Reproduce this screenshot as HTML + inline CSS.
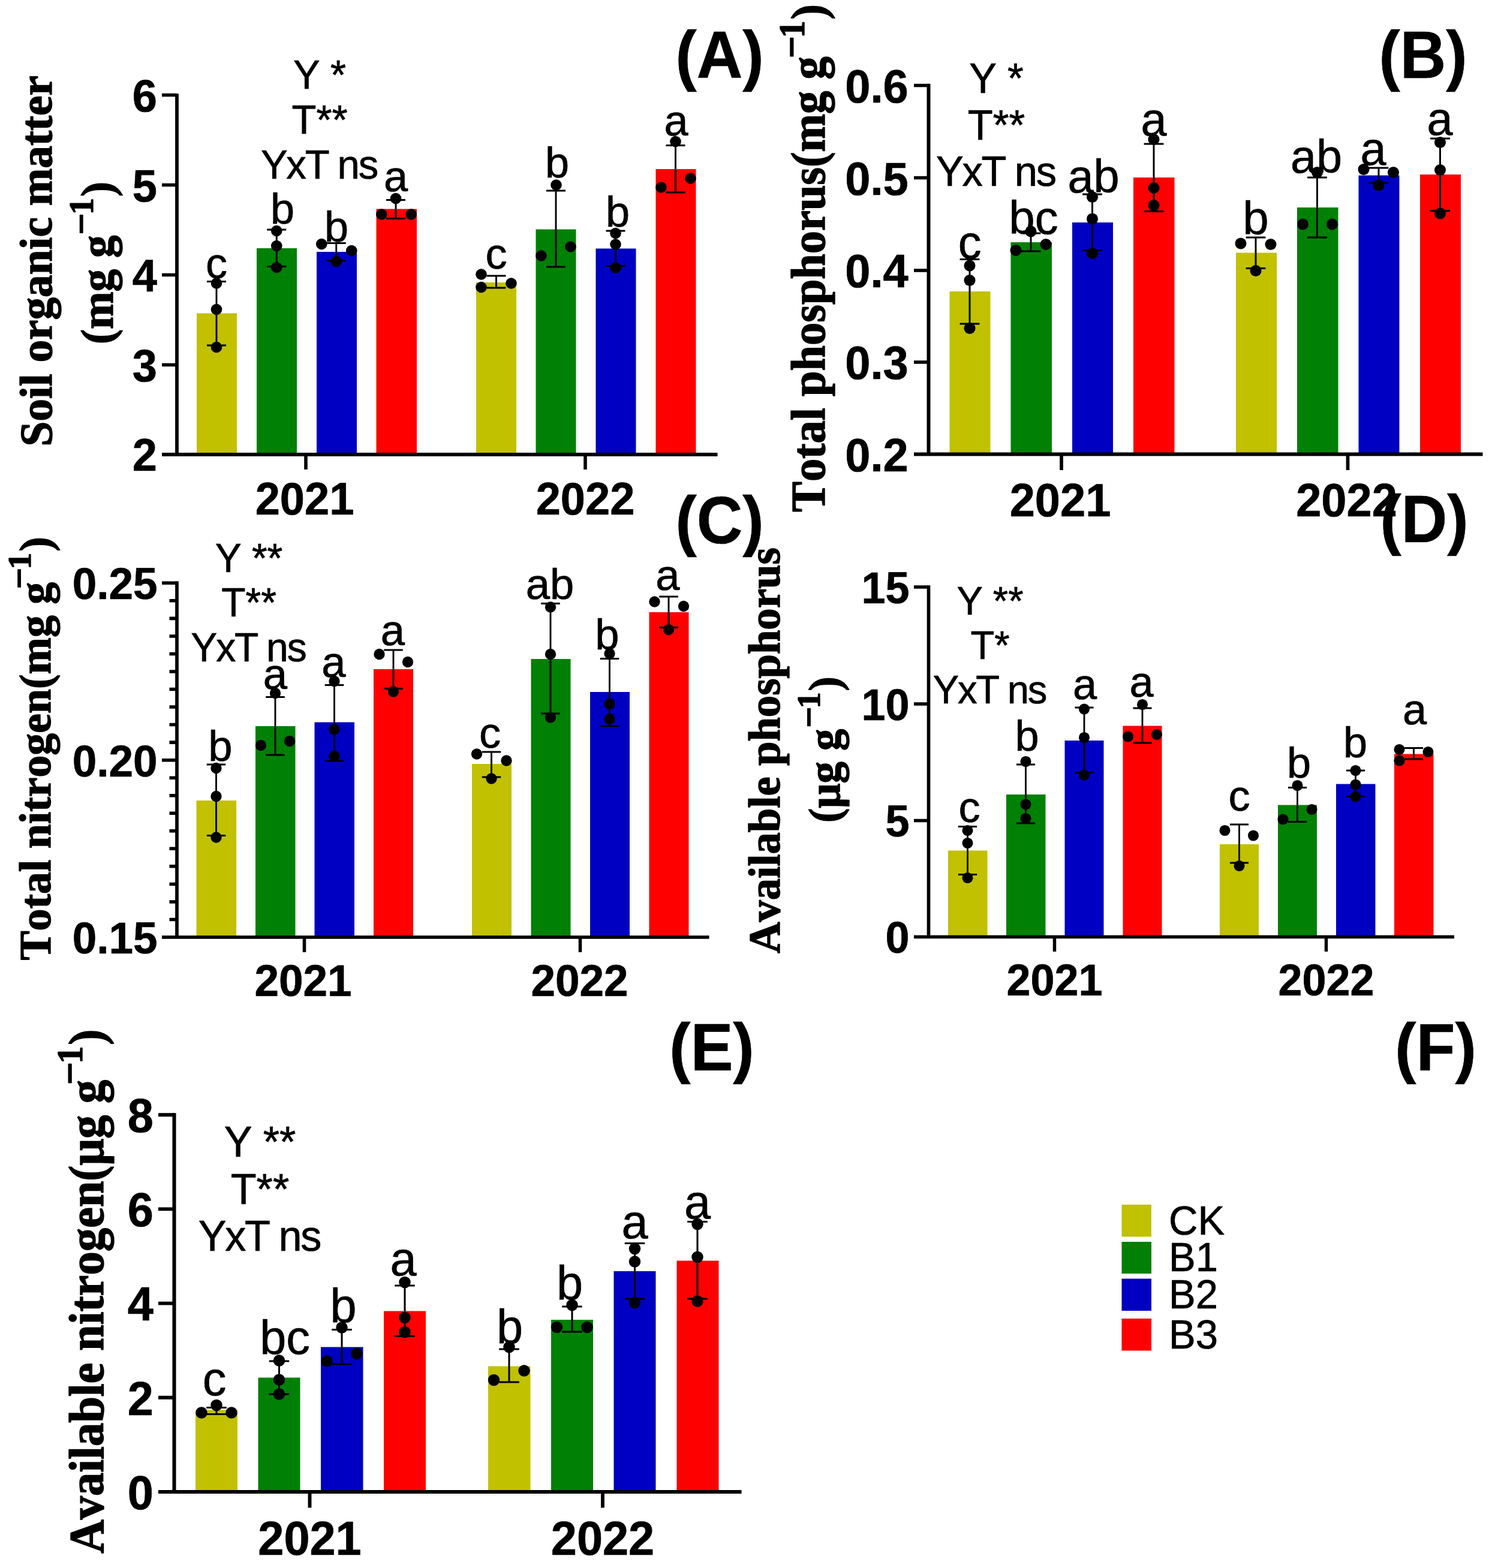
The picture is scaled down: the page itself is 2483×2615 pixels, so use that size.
<!DOCTYPE html>
<html lang="en"><head><meta charset="utf-8"><title>Soil nutrients under biochar treatments</title>
<style>html,body{margin:0;padding:0;background:#fff}body{width:2483px;height:2615px;overflow:hidden}svg{display:block}text{stroke:#000;stroke-width:0.7;stroke-linejoin:round}.sb{font-family:"Liberation Sans",Arial,Helvetica,sans-serif;font-weight:700}.sr{font-family:"Liberation Sans",Arial,Helvetica,sans-serif;font-weight:400}.tb{font-family:"Liberation Serif","Times New Roman",Times,serif;font-weight:700;stroke-width:1.4;font-kerning:none}</style></head><body>
<svg width="2483" height="2615" viewBox="0 0 2483 2615">
<rect width="2483" height="2615" fill="#fff" stroke="none"/>
<g id="panel-A">
<rect x="328" y="522.5" width="67" height="235.5" fill="#C1C100"/>
<rect x="428" y="414" width="67" height="344" fill="#008004"/>
<rect x="528" y="420" width="67" height="338" fill="#0000C2"/>
<rect x="627.5" y="348.5" width="67.5" height="409.5" fill="#FF0000"/>
<rect x="794" y="471" width="67" height="287" fill="#C1C100"/>
<rect x="893.5" y="382.5" width="67" height="375.5" fill="#008004"/>
<rect x="993.5" y="414.5" width="67" height="343.5" fill="#0000C2"/>
<rect x="1093.5" y="282" width="67" height="476" fill="#FF0000"/>
<g stroke="#000" fill="none">
<path stroke-width="5.8" d="M295 156.2 V760.9M270 758 H1196.5"/>
<path stroke-width="5.6" d="M270 158.5 H295M270 308.5 H295M270 458.5 H295M270 608.5 H295M510 758 V783M976 758 V783"/>
<path stroke-width="2.9" d="M361 469.5 V576M345 469.5 H377M345 576 H377M461.25 383 V444.5M445.25 383 H477.25M445.25 444.5 H477.25M560.75 405.5 V435M544.75 405.5 H576.75M544.75 435 H576.75M660 333.5 V364.5M644 333.5 H676M644 364.5 H676M827.5 460 V480M811.5 460 H843.5M811.5 480 H843.5M927 318 V445M911 318 H943M911 445 H943M1026.5 385 V443.5M1010.5 385 H1042.5M1010.5 443.5 H1042.5M1126.5 242.5 V321M1110.5 242.5 H1142.5M1110.5 321 H1142.5"/>
</g>
<g fill="#000">
<circle cx="361" cy="472.5" r="9.3"/>
<circle cx="361" cy="516" r="9.3"/>
<circle cx="361" cy="579" r="9.3"/>
<circle cx="461.25" cy="385" r="9.3"/>
<circle cx="461.25" cy="410" r="9.3"/>
<circle cx="461.25" cy="446" r="9.3"/>
<circle cx="536.25" cy="407" r="9.3"/>
<circle cx="586.25" cy="418" r="9.3"/>
<circle cx="560.75" cy="436" r="9.3"/>
<circle cx="660" cy="331" r="9.3"/>
<circle cx="636.25" cy="357.5" r="9.3"/>
<circle cx="685.75" cy="357.5" r="9.3"/>
<circle cx="802.5" cy="457.5" r="9.3"/>
<circle cx="802.5" cy="479" r="9.3"/>
<circle cx="852.5" cy="472.5" r="9.3"/>
<circle cx="927.5" cy="308.5" r="9.3"/>
<circle cx="951.5" cy="411.5" r="9.3"/>
<circle cx="902.5" cy="426.5" r="9.3"/>
<circle cx="1026.5" cy="389" r="9.3"/>
<circle cx="1026.5" cy="407.5" r="9.3"/>
<circle cx="1026.5" cy="446.5" r="9.3"/>
<circle cx="1126.5" cy="236" r="9.3"/>
<circle cx="1151.5" cy="297.5" r="9.3"/>
<circle cx="1102.5" cy="312.5" r="9.3"/>
</g>
<text class="sb" font-size="74" transform="translate(262 185.97) scale(1 1.02)" text-anchor="end">6</text>
<text class="sb" font-size="74" transform="translate(262 335.97) scale(1 1.02)" text-anchor="end">5</text>
<text class="sb" font-size="74" transform="translate(262 485.97) scale(1 1.02)" text-anchor="end">4</text>
<text class="sb" font-size="74" transform="translate(262 635.97) scale(1 1.02)" text-anchor="end">3</text>
<text class="sb" font-size="74" transform="translate(262 785.47) scale(1 1.02)" text-anchor="end">2</text>
<text class="sb" font-size="74" transform="translate(508 858) scale(1 1.02)" text-anchor="middle">2021</text>
<text class="sb" font-size="74" transform="translate(976 858) scale(1 1.02)" text-anchor="middle">2022</text>
<text class="sr" font-size="72.1" x="361" y="463.5" text-anchor="middle">c</text>
<text class="sr" font-size="72.1" x="471" y="373" text-anchor="middle">b</text>
<text class="sr" font-size="72.1" x="561" y="402.5" text-anchor="middle">b</text>
<text class="sr" font-size="72.1" x="660" y="318.5" text-anchor="middle">a</text>
<text class="sr" font-size="72.1" x="827.5" y="447.5" text-anchor="middle">c</text>
<text class="sr" font-size="72.1" x="929" y="296" text-anchor="middle">b</text>
<text class="sr" font-size="72.1" x="1030" y="378" text-anchor="middle">b</text>
<text class="sr" font-size="72.1" x="1127.5" y="225.5" text-anchor="middle">a</text>
<text class="sr" font-size="67" transform="translate(533 148) scale(1 1.03)" text-anchor="middle">Y *</text>
<text class="sr" font-size="67" transform="translate(533 222.5) scale(1 1.03)" text-anchor="middle">T**</text>
<text class="sr" font-size="67" transform="translate(531.9 297.5) scale(1 1.03)" text-anchor="middle" letter-spacing="-2.2">YxT ns</text>
<text class="tb" font-size="75.25" transform="translate(86.3 744.6) rotate(-90) scale(1 1.01)">Soil organic matter</text>
<text class="tb" font-size="75.25" transform="translate(188.3 574.1) rotate(-90) scale(1 1.01)">(mg g<tspan font-size="64" dx="0.8" dy="-30.99">−</tspan><tspan font-size="56" dx="-3" dy="-2.28">1</tspan><tspan dx="2" dy="33.27">)</tspan></text>
</g>
<g id="panel-B">
<rect x="1583.5" y="486" width="68" height="271.5" fill="#C1C100"/>
<rect x="1685.5" y="404" width="68.5" height="353.5" fill="#008004"/>
<rect x="1788" y="371" width="68" height="386.5" fill="#0000C2"/>
<rect x="1890" y="296" width="68.5" height="461.5" fill="#FF0000"/>
<rect x="2061" y="421.5" width="68" height="336" fill="#C1C100"/>
<rect x="2163" y="346" width="68.5" height="411.5" fill="#008004"/>
<rect x="2265.5" y="292.5" width="68" height="465" fill="#0000C2"/>
<rect x="2368" y="291" width="68" height="466.5" fill="#FF0000"/>
<g stroke="#000" fill="none">
<path stroke-width="5.94" d="M1548.5 139.63 V760.47M1524 757.5 H2472.5"/>
<path stroke-width="5.74" d="M1524 142.5 H1548.5M1524 296.5 H1548.5M1524 451 H1548.5M1524 604 H1548.5M1770 757.5 V784M2247.5 757.5 V784"/>
<path stroke-width="2.97" d="M1617 432.5 V540M1600.6 432.5 H1633.4M1600.6 540 H1633.4M1719 389 V419M1702.6 389 H1735.4M1702.6 419 H1735.4M1821.5 324 V417.5M1805.1 324 H1837.9M1805.1 417.5 H1837.9M1924 240 V352.5M1907.6 240 H1940.4M1907.6 352.5 H1940.4M2094 396 V447.5M2077.6 396 H2110.4M2077.6 447.5 H2110.4M2196.5 296 V396M2180.1 296 H2212.9M2180.1 396 H2212.9M2299 280 V305M2282.6 280 H2315.4M2282.6 305 H2315.4M2401.5 231 V351.5M2385.1 231 H2417.9M2385.1 351.5 H2417.9"/>
</g>
<g fill="#000">
<circle cx="1617" cy="443" r="9.53"/>
<circle cx="1617" cy="467.5" r="9.53"/>
<circle cx="1617" cy="547.5" r="9.53"/>
<circle cx="1719" cy="386" r="9.53"/>
<circle cx="1744" cy="407.5" r="9.53"/>
<circle cx="1694" cy="417.5" r="9.53"/>
<circle cx="1821.5" cy="328.5" r="9.53"/>
<circle cx="1821.5" cy="365" r="9.53"/>
<circle cx="1821.5" cy="422.5" r="9.53"/>
<circle cx="1924" cy="232.5" r="9.53"/>
<circle cx="1924" cy="313.5" r="9.53"/>
<circle cx="1924" cy="342.5" r="9.53"/>
<circle cx="2069" cy="406" r="9.53"/>
<circle cx="2119" cy="407.5" r="9.53"/>
<circle cx="2094" cy="451.5" r="9.53"/>
<circle cx="2196.5" cy="287.5" r="9.53"/>
<circle cx="2172.5" cy="374" r="9.53"/>
<circle cx="2221.5" cy="374" r="9.53"/>
<circle cx="2274" cy="282.5" r="9.53"/>
<circle cx="2323.5" cy="287.5" r="9.53"/>
<circle cx="2299" cy="309" r="9.53"/>
<circle cx="2401.5" cy="237.5" r="9.53"/>
<circle cx="2401.5" cy="283.5" r="9.53"/>
<circle cx="2401.5" cy="356" r="9.53"/>
</g>
<text class="sb" font-size="75.85" transform="translate(1514.67 170.61) scale(1 1.02)" text-anchor="end">0.6</text>
<text class="sb" font-size="75.85" transform="translate(1514.67 324.61) scale(1 1.02)" text-anchor="end">0.5</text>
<text class="sb" font-size="75.85" transform="translate(1514.67 479.11) scale(1 1.02)" text-anchor="end">0.4</text>
<text class="sb" font-size="75.85" transform="translate(1514.67 632.11) scale(1 1.02)" text-anchor="end">0.3</text>
<text class="sb" font-size="75.85" transform="translate(1514.67 785.61) scale(1 1.02)" text-anchor="end">0.2</text>
<text class="sb" font-size="75.85" transform="translate(1768 861) scale(1 1.02)" text-anchor="middle">2021</text>
<text class="sb" font-size="75.85" transform="translate(2245.5 861) scale(1 1.02)" text-anchor="middle">2022</text>
<text class="sr" font-size="77.49" x="1617" y="431" text-anchor="middle">c</text>
<text class="sr" font-size="77.49" x="1723.5" y="389.5" text-anchor="middle">bc</text>
<text class="sr" font-size="77.49" x="1823.5" y="320.5" text-anchor="middle">ab</text>
<text class="sr" font-size="77.49" x="1924" y="225.5" text-anchor="middle">a</text>
<text class="sr" font-size="77.49" x="2094" y="391" text-anchor="middle">b</text>
<text class="sr" font-size="77.49" x="2195" y="288" text-anchor="middle">ab</text>
<text class="sr" font-size="77.49" x="2290" y="274.5" text-anchor="middle">a</text>
<text class="sr" font-size="77.49" x="2401" y="224.5" text-anchor="middle">a</text>
<text class="sr" font-size="68.67" transform="translate(1661.5 155) scale(1 1.03)" text-anchor="middle">Y *</text>
<text class="sr" font-size="68.67" transform="translate(1661.5 232.5) scale(1 1.03)" text-anchor="middle">T**</text>
<text class="sr" font-size="68.67" transform="translate(1660.37 310) scale(1 1.03)" text-anchor="middle" letter-spacing="-2.25">YxT ns</text>
<text class="tb" font-size="76.37" transform="translate(1375.3 854) rotate(-90) scale(1 1.05)">Total phosphorus(mg g<tspan font-size="65.6" dx="-3.2" dy="-30.55">−</tspan><tspan font-size="57.4" dx="-3.07" dy="-2.25">1</tspan><tspan dx="2.05" dy="32.8">)</tspan></text>
</g>
<g id="panel-C">
<rect x="327.5" y="1335" width="66.5" height="228" fill="#C1C100"/>
<rect x="426" y="1211" width="66.5" height="352" fill="#008004"/>
<rect x="524.5" y="1204.5" width="66.5" height="358.5" fill="#0000C2"/>
<rect x="623" y="1116" width="66" height="447" fill="#FF0000"/>
<rect x="787" y="1274" width="66" height="289" fill="#C1C100"/>
<rect x="885.5" y="1099" width="66" height="464" fill="#008004"/>
<rect x="984" y="1154" width="66" height="409" fill="#0000C2"/>
<rect x="1082.5" y="1021" width="66" height="542" fill="#FF0000"/>
<g stroke="#000" fill="none">
<path stroke-width="5.71" d="M295 969.54 V1565.86M270 1563 H1182.5"/>
<path stroke-width="5.52" d="M270 972.3 H295M270 1267.65 H295M282.5 1001.83 H295M282.5 1031.37 H295M282.5 1060.9 H295M282.5 1090.44 H295M282.5 1119.97 H295M282.5 1149.51 H295M282.5 1179.05 H295M282.5 1208.58 H295M282.5 1238.12 H295M282.5 1297.18 H295M282.5 1326.72 H295M282.5 1356.25 H295M282.5 1385.79 H295M282.5 1415.32 H295M282.5 1444.86 H295M282.5 1474.39 H295M282.5 1503.93 H295M282.5 1533.46 H295M507.5 1563 V1588M967.5 1563 V1588"/>
<path stroke-width="2.86" d="M360.5 1275 V1393.5M344.74 1275 H376.26M344.74 1393.5 H376.26M459 1162.5 V1259M443.24 1162.5 H474.76M443.24 1259 H474.76M557.5 1142.5 V1269M541.74 1142.5 H573.26M541.74 1269 H573.26M656 1084 V1148.5M640.24 1084 H671.76M640.24 1148.5 H671.76M819.5 1254 V1296M803.74 1254 H835.26M803.74 1296 H835.26M918 1006.5 V1190M902.24 1006.5 H933.76M902.24 1190 H933.76M1016.5 1098.5 V1211M1000.74 1098.5 H1032.26M1000.74 1211 H1032.26M1115 995 V1046.5M1099.24 995 H1130.76M1099.24 1046.5 H1130.76"/>
</g>
<g fill="#000">
<circle cx="360.5" cy="1281" r="9.16"/>
<circle cx="360.5" cy="1328" r="9.16"/>
<circle cx="360.5" cy="1396.5" r="9.16"/>
<circle cx="459" cy="1156" r="9.16"/>
<circle cx="483" cy="1236" r="9.16"/>
<circle cx="435" cy="1243" r="9.16"/>
<circle cx="557.5" cy="1136" r="9.16"/>
<circle cx="557.5" cy="1216.5" r="9.16"/>
<circle cx="557.5" cy="1261" r="9.16"/>
<circle cx="632.5" cy="1091" r="9.16"/>
<circle cx="680" cy="1104" r="9.16"/>
<circle cx="656" cy="1153.5" r="9.16"/>
<circle cx="795" cy="1257.5" r="9.16"/>
<circle cx="844.5" cy="1268.5" r="9.16"/>
<circle cx="819.5" cy="1298.5" r="9.16"/>
<circle cx="918" cy="1012.5" r="9.16"/>
<circle cx="918" cy="1091" r="9.16"/>
<circle cx="918" cy="1196.5" r="9.16"/>
<circle cx="1016.5" cy="1090" r="9.16"/>
<circle cx="1016.5" cy="1174" r="9.16"/>
<circle cx="1016.5" cy="1199" r="9.16"/>
<circle cx="1091.5" cy="1003.5" r="9.16"/>
<circle cx="1140" cy="1011" r="9.16"/>
<circle cx="1115" cy="1050" r="9.16"/>
</g>
<text class="sb" font-size="72.89" transform="translate(262.5 999.38) scale(1 1.02)" text-anchor="end">0.25</text>
<text class="sb" font-size="72.89" transform="translate(262.5 1294.73) scale(1 1.02)" text-anchor="end">0.20</text>
<text class="sb" font-size="72.89" transform="translate(262.5 1590.08) scale(1 1.02)" text-anchor="end">0.15</text>
<text class="sb" font-size="72.89" transform="translate(505.5 1661) scale(1 1.02)" text-anchor="middle">2021</text>
<text class="sb" font-size="72.89" transform="translate(966.5 1661) scale(1 1.02)" text-anchor="middle">2022</text>
<text class="sr" font-size="72.4" x="367.5" y="1269" text-anchor="middle">b</text>
<text class="sr" font-size="72.4" x="459" y="1149" text-anchor="middle">a</text>
<text class="sr" font-size="72.4" x="556.5" y="1129" text-anchor="middle">a</text>
<text class="sr" font-size="72.4" x="655" y="1075.5" text-anchor="middle">a</text>
<text class="sr" font-size="72.4" x="817" y="1247" text-anchor="middle">c</text>
<text class="sr" font-size="72.4" x="917" y="999" text-anchor="middle">ab</text>
<text class="sr" font-size="72.4" x="1012.5" y="1083" text-anchor="middle">b</text>
<text class="sr" font-size="72.4" x="1113.5" y="984" text-anchor="middle">a</text>
<text class="sr" font-size="66" transform="translate(415 954) scale(1 1.03)" text-anchor="middle">Y **</text>
<text class="sr" font-size="66" transform="translate(415 1027.5) scale(1 1.03)" text-anchor="middle">T**</text>
<text class="sr" font-size="66" transform="translate(413.92 1102.5) scale(1 1.03)" text-anchor="middle" letter-spacing="-2.17">YxT ns</text>
<text class="tb" font-size="73.73" transform="translate(84 1601.6) rotate(-90) scale(1 1)">Total nitrogen(mg g<tspan font-size="63.04" dx="-11.4" dy="-30.83">−</tspan><tspan font-size="55.16" dx="-2.96" dy="-2.27">1</tspan><tspan dx="1.97" dy="33.1">)</tspan></text>
</g>
<g id="panel-D">
<rect x="1581" y="1418.5" width="65.5" height="144" fill="#C1C100"/>
<rect x="1678" y="1325" width="65.5" height="237.5" fill="#008004"/>
<rect x="1775.5" y="1235" width="65" height="327.5" fill="#0000C2"/>
<rect x="1872.5" y="1210.5" width="65" height="352" fill="#FF0000"/>
<rect x="2034" y="1408" width="65" height="154.5" fill="#C1C100"/>
<rect x="2131" y="1342.5" width="65" height="220" fill="#008004"/>
<rect x="2228" y="1307.5" width="65.5" height="255" fill="#0000C2"/>
<rect x="2325" y="1257.5" width="65.5" height="305" fill="#FF0000"/>
<g stroke="#000" fill="none">
<path stroke-width="5.64" d="M1548.5 976.28 V1565.32M1524 1562.5 H2425"/>
<path stroke-width="5.44" d="M1524 979 H1548.5M1524 1174 H1548.5M1524 1368.5 H1548.5M1758.5 1562.5 V1587M2211.5 1562.5 V1587"/>
<path stroke-width="2.82" d="M1613.5 1378.5 V1458.5M1597.95 1378.5 H1629.05M1597.95 1458.5 H1629.05M1710.5 1275 V1373M1694.95 1275 H1726.05M1694.95 1373 H1726.05M1808 1180 V1288.5M1792.45 1180 H1823.55M1792.45 1288.5 H1823.55M1905 1181 V1239M1889.45 1181 H1920.55M1889.45 1239 H1920.55M2066.5 1375 V1439M2050.95 1375 H2082.05M2050.95 1439 H2082.05M2163.5 1313.5 V1370.5M2147.95 1313.5 H2179.05M2147.95 1370.5 H2179.05M2260.5 1285 V1328.5M2244.95 1285 H2276.05M2244.95 1328.5 H2276.05M2357.5 1247.5 V1266M2341.95 1247.5 H2373.05M2341.95 1266 H2373.05"/>
</g>
<g fill="#000">
<circle cx="1613.5" cy="1385" r="9.04"/>
<circle cx="1613.5" cy="1406" r="9.04"/>
<circle cx="1613.5" cy="1464" r="9.04"/>
<circle cx="1710.5" cy="1270" r="9.04"/>
<circle cx="1710.5" cy="1341.5" r="9.04"/>
<circle cx="1710.5" cy="1365" r="9.04"/>
<circle cx="1808" cy="1182.5" r="9.04"/>
<circle cx="1808" cy="1230" r="9.04"/>
<circle cx="1808" cy="1292.5" r="9.04"/>
<circle cx="1905" cy="1175" r="9.04"/>
<circle cx="1881" cy="1228.5" r="9.04"/>
<circle cx="1929" cy="1225" r="9.04"/>
<circle cx="2042.5" cy="1385" r="9.04"/>
<circle cx="2090" cy="1393.5" r="9.04"/>
<circle cx="2066.5" cy="1444" r="9.04"/>
<circle cx="2163.5" cy="1310" r="9.04"/>
<circle cx="2187.5" cy="1350" r="9.04"/>
<circle cx="2139.5" cy="1366.5" r="9.04"/>
<circle cx="2260.5" cy="1285" r="9.04"/>
<circle cx="2260.5" cy="1308.5" r="9.04"/>
<circle cx="2260.5" cy="1328.5" r="9.04"/>
<circle cx="2333.5" cy="1250" r="9.04"/>
<circle cx="2381.5" cy="1254" r="9.04"/>
<circle cx="2333.5" cy="1268.5" r="9.04"/>
</g>
<text class="sb" font-size="71.93" transform="translate(1516.42 1005.74) scale(1 1.02)" text-anchor="end">15</text>
<text class="sb" font-size="71.93" transform="translate(1516.42 1200.74) scale(1 1.02)" text-anchor="end">10</text>
<text class="sb" font-size="71.93" transform="translate(1516.42 1395.24) scale(1 1.02)" text-anchor="end">5</text>
<text class="sb" font-size="71.93" transform="translate(1516.42 1589.24) scale(1 1.02)" text-anchor="end">0</text>
<text class="sb" font-size="71.93" transform="translate(1758.5 1660) scale(1 1.02)" text-anchor="middle">2021</text>
<text class="sb" font-size="71.93" transform="translate(2211.5 1660) scale(1 1.02)" text-anchor="middle">2022</text>
<text class="sr" font-size="72.12" x="1616.5" y="1371" text-anchor="middle">c</text>
<text class="sr" font-size="72.12" x="1712.5" y="1252" text-anchor="middle">b</text>
<text class="sr" font-size="72.12" x="1809" y="1166" text-anchor="middle">a</text>
<text class="sr" font-size="72.12" x="1903.5" y="1162" text-anchor="middle">a</text>
<text class="sr" font-size="72.12" x="2066.5" y="1352" text-anchor="middle">c</text>
<text class="sr" font-size="72.12" x="2166" y="1297" text-anchor="middle">b</text>
<text class="sr" font-size="72.12" x="2260" y="1263" text-anchor="middle">b</text>
<text class="sr" font-size="72.12" x="2359" y="1208" text-anchor="middle">a</text>
<text class="sr" font-size="65.12" transform="translate(1651 1025) scale(1 1.03)" text-anchor="middle">Y **</text>
<text class="sr" font-size="65.12" transform="translate(1651 1098.5) scale(1 1.03)" text-anchor="middle">T*</text>
<text class="sr" font-size="65.12" transform="translate(1649.93 1172.5) scale(1 1.03)" text-anchor="middle" letter-spacing="-2.14">YxT ns</text>
<text class="tb" font-size="72.71" transform="translate(1300 1590.1) rotate(-90) scale(1 1.02)">Available phosphorus</text>
<text class="tb" font-size="72.71" transform="translate(1400 1372) rotate(-90) scale(1 1.02)">(μg g<tspan font-size="62.21" dx="1.6" dy="-29.83">−</tspan><tspan font-size="54.43" dx="-2.92" dy="-2.19">1</tspan><tspan dx="1.94" dy="32.02">)</tspan></text>
</g>
<g id="panel-E">
<rect x="326" y="2351.5" width="70" height="136.5" fill="#C1C100"/>
<rect x="430.5" y="2297.5" width="70" height="190.5" fill="#008004"/>
<rect x="535" y="2246.5" width="70.5" height="241.5" fill="#0000C2"/>
<rect x="640" y="2186.5" width="70" height="301.5" fill="#FF0000"/>
<rect x="814" y="2278.5" width="70.5" height="209.5" fill="#C1C100"/>
<rect x="919" y="2201" width="70" height="287" fill="#008004"/>
<rect x="1023.5" y="2120" width="70" height="368" fill="#0000C2"/>
<rect x="1128.5" y="2102.5" width="70" height="385.5" fill="#FF0000"/>
<g stroke="#000" fill="none">
<path stroke-width="6.08" d="M290.5 1856.27 V2491.04M264 2488 H1236.5"/>
<path stroke-width="5.87" d="M264 1859.2 H290.5M264 2016.4 H290.5M264 2173.6 H290.5M264 2330.8 H290.5M516.5 2488 V2514.5M1005 2488 V2514.5"/>
<path stroke-width="3.04" d="M361 2347.5 V2358.5M344.23 2347.5 H377.77M344.23 2358.5 H377.77M465.5 2270 V2325M448.73 2270 H482.27M448.73 2325 H482.27M570 2217.5 V2275M553.23 2217.5 H586.77M553.23 2275 H586.77M675 2144 V2228.5M658.23 2144 H691.77M658.23 2228.5 H691.77M849 2250 V2305M832.23 2250 H865.77M832.23 2305 H865.77M954 2179 V2221M937.23 2179 H970.77M937.23 2221 H970.77M1058.5 2073.5 V2166M1041.73 2073.5 H1075.27M1041.73 2166 H1075.27M1163 2037.5 V2166M1146.23 2037.5 H1179.77M1146.23 2166 H1179.77"/>
</g>
<g fill="#000">
<circle cx="361" cy="2343.5" r="9.75"/>
<circle cx="336" cy="2356" r="9.75"/>
<circle cx="386" cy="2356" r="9.75"/>
<circle cx="465.5" cy="2269" r="9.75"/>
<circle cx="465.5" cy="2301" r="9.75"/>
<circle cx="465.5" cy="2325" r="9.75"/>
<circle cx="570" cy="2214" r="9.75"/>
<circle cx="595" cy="2257.5" r="9.75"/>
<circle cx="545" cy="2270" r="9.75"/>
<circle cx="675" cy="2138.5" r="9.75"/>
<circle cx="675" cy="2197.5" r="9.75"/>
<circle cx="675" cy="2221.5" r="9.75"/>
<circle cx="849" cy="2246.5" r="9.75"/>
<circle cx="874" cy="2286" r="9.75"/>
<circle cx="823.5" cy="2301.5" r="9.75"/>
<circle cx="954" cy="2176.5" r="9.75"/>
<circle cx="928.5" cy="2213.5" r="9.75"/>
<circle cx="979" cy="2213.5" r="9.75"/>
<circle cx="1058.5" cy="2082.5" r="9.75"/>
<circle cx="1058.5" cy="2104" r="9.75"/>
<circle cx="1058.5" cy="2172.5" r="9.75"/>
<circle cx="1163" cy="2041.5" r="9.75"/>
<circle cx="1163" cy="2096.5" r="9.75"/>
<circle cx="1163" cy="2170" r="9.75"/>
</g>
<text class="sb" font-size="77.55" transform="translate(255.92 1887.91) scale(1 1.02)" text-anchor="end">8</text>
<text class="sb" font-size="77.55" transform="translate(255.92 2045.11) scale(1 1.02)" text-anchor="end">6</text>
<text class="sb" font-size="77.55" transform="translate(255.92 2202.31) scale(1 1.02)" text-anchor="end">4</text>
<text class="sb" font-size="77.55" transform="translate(255.92 2359.51) scale(1 1.02)" text-anchor="end">2</text>
<text class="sb" font-size="77.55" transform="translate(255.92 2516.71) scale(1 1.02)" text-anchor="end">0</text>
<text class="sb" font-size="77.55" transform="translate(516.5 2593) scale(1 1.02)" text-anchor="middle">2021</text>
<text class="sb" font-size="77.55" transform="translate(1005 2593) scale(1 1.02)" text-anchor="middle">2022</text>
<text class="sr" font-size="79.23" x="357.5" y="2327" text-anchor="middle">c</text>
<text class="sr" font-size="79.23" x="475" y="2258" text-anchor="middle">bc</text>
<text class="sr" font-size="79.23" x="572.5" y="2204.5" text-anchor="middle">b</text>
<text class="sr" font-size="79.23" x="672.5" y="2127" text-anchor="middle">a</text>
<text class="sr" font-size="79.23" x="850" y="2239.5" text-anchor="middle">b</text>
<text class="sr" font-size="79.23" x="950" y="2167" text-anchor="middle">b</text>
<text class="sr" font-size="79.23" x="1058.5" y="2064.5" text-anchor="middle">a</text>
<text class="sr" font-size="79.23" x="1163" y="2032" text-anchor="middle">a</text>
<text class="sr" font-size="70.22" transform="translate(433.5 1928.5) scale(1 1.03)" text-anchor="middle">Y **</text>
<text class="sr" font-size="70.22" transform="translate(433.5 2007.5) scale(1 1.03)" text-anchor="middle">T**</text>
<text class="sr" font-size="70.22" transform="translate(432.35 2086) scale(1 1.03)" text-anchor="middle" letter-spacing="-2.31">YxT ns</text>
<text class="tb" font-size="78.48" transform="translate(172.4 2590.8) rotate(-90) scale(1 1.04)">Available nitrogen(μg g<tspan font-size="67.07" dx="-8.2" dy="-31.54">−</tspan><tspan font-size="58.69" dx="-3.14" dy="-2.32">1</tspan><tspan dx="2.1" dy="33.86">)</tspan></text>
</g>
<text class="sb" font-size="106" transform="translate(1200 130) scale(1 1.05)" text-anchor="middle">(A)</text>
<text class="sb" font-size="106" transform="translate(2373 130) scale(1 1.05)" text-anchor="middle">(B)</text>
<text class="sb" font-size="106" transform="translate(1200 906) scale(1 1.05)" text-anchor="middle">(C)</text>
<text class="sb" font-size="106" transform="translate(2375 904) scale(1 1.05)" text-anchor="middle">(D)</text>
<text class="sb" font-size="106" transform="translate(1187 1785) scale(1 1.05)" text-anchor="middle">(E)</text>
<text class="sb" font-size="106" transform="translate(2394 1785) scale(1 1.05)" text-anchor="middle">(F)</text>
<g id="legend">
<rect x="1870.5" y="2009" width="49.5" height="53.5" fill="#C1C100"/>
<text class="sr" font-size="67" transform="translate(1949 2059) scale(1 1.03)">CK</text>
<rect x="1870.5" y="2071" width="49.5" height="53" fill="#008004"/>
<text class="sr" font-size="67" transform="translate(1949 2120) scale(1 1.03)">B1</text>
<rect x="1870.5" y="2132.5" width="49.5" height="53.5" fill="#0000C2"/>
<text class="sr" font-size="67" transform="translate(1949 2181.5) scale(1 1.03)">B2</text>
<rect x="1870.5" y="2199" width="49.5" height="53.5" fill="#FF0000"/>
<text class="sr" font-size="67" transform="translate(1949 2248.5) scale(1 1.03)">B3</text>
</g>
</svg></body></html>
